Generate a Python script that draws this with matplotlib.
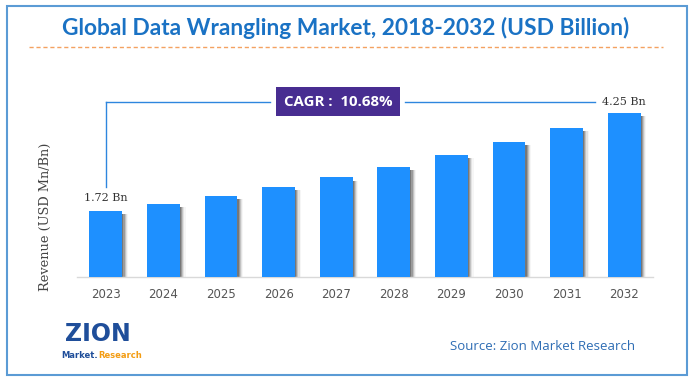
import matplotlib
matplotlib.use("Agg")
import matplotlib.pyplot as plt
from matplotlib.patches import Rectangle
from matplotlib.lines import Line2D

years = ["2023", "2024", "2025", "2026", "2027", "2028", "2029", "2030", "2031", "2032"]
values = [1.72, 1.90, 2.11, 2.33, 2.58, 2.86, 3.16, 3.50, 3.87, 4.25]
title = "Global Data Wrangling Market, 2018-2032 (USD Billion)"
cagr_text = "CAGR :  10.68%"
first_label = "1.72 Bn"
last_label = "4.25 Bn"
ylabel = "Revenue (USD Mn/Bn)"
source = "Source: Zion Market Research"

W, H = 693, 382
fig = plt.figure(figsize=(W / 100, H / 100), dpi=100)
fig.patch.set_facecolor("white")

def fx(px):
    return px / W

def fy(py):
    return 1 - py / H

# outer border
fig.add_artist(Rectangle((fx(6.5), fy(375)), fx(687) - fx(6.5), fy(5.5) - fy(375),
                         transform=fig.transFigure, fill=False,
                         edgecolor="#5B9BD5", lw=1.5))

# title
fig.text(fx(346), fy(28), title, ha="center", va="center", fontsize=16.4,
         fontweight="bold", color="#1A72C4", family="Lato")
fig.add_artist(Line2D([fx(29), fx(663)], [fy(47), fy(47)], transform=fig.transFigure,
                      color="#F4A261", lw=1, ls=(0, (3, 2))))

# axes
left, right, base = 77, 653, 277
top = 84
ax = fig.add_axes([fx(left), fy(base), fx(right) - fx(left), fy(top) - fy(base)])
ax.set_xlim(-0.5, 9.5)
ymax = (base - top) / 38.6
ax.set_ylim(0, ymax)
x = list(range(len(years)))
bw = 0.57

# shadows
shadow_steps = [(0.02, 0.5), (0.04, 0.35), (0.06, 0.22), (0.08, 0.12), (0.10, 0.05)]
for off, a in shadow_steps:
    ax.bar([i + off for i in x], [v - 0.08 for v in values], width=bw, color="#555555",
           alpha=a, zorder=1, linewidth=0)
ax.bar(x, values, width=bw, color="#1E90FF", zorder=3, linewidth=0)

for s in ["top", "right", "left"]:
    ax.spines[s].set_visible(False)
ax.spines["bottom"].set_color("#D9D9D9")
ax.spines["bottom"].set_linewidth(1)
ax.set_yticks([])
ax.set_xticks(x)
ax.set_xticklabels(years, fontsize=8.5, color="#555555", family="DejaVu Sans")
ax.tick_params(axis="x", length=0, pad=8)
ax.patch.set_alpha(0)

# annotations
line_y = (base - 101.7) / 38.6
lc = "#2E86DE"
ax.plot([0, 0], [values[0] + 0.6, line_y], color=lc, lw=1, clip_on=False, zorder=4)
ax.plot([0, 2.85], [line_y, line_y], color=lc, lw=1, clip_on=False, zorder=4)
ax.plot([5.2, 8.5], [line_y, line_y], color=lc, lw=1, clip_on=False, zorder=4)
ax.text(4.03, line_y, cagr_text, ha="center", va="center", fontsize=10.8,
        fontweight="bold", color="white", family="Open Sans", zorder=5,
        bbox=dict(boxstyle="square,pad=0.5", fc="#482D91", ec="none"))
ax.text(0, values[0] + 0.33, first_label, ha="center", va="center", fontsize=8,
        color="#333333", family="DejaVu Serif")
ax.text(9, line_y, last_label, ha="center", va="center", fontsize=8,
        color="#333333", family="DejaVu Serif")

fig.text(fx(45), fy(217), ylabel, rotation=90, ha="center", va="center",
         fontsize=9.3, color="#444444", family="DejaVu Serif")

# source
fig.text(fx(543), fy(346), source, ha="center", va="center", fontsize=9.5,
         color="#2E6DB4", family="Open Sans")

# logo (text approximation)
fig.text(fx(98), fy(334), "ZION", ha="center", va="center", fontsize=17,
         fontweight="bold", color="#1F4E9A", family="DejaVu Sans")
fig.text(fx(98), fy(355), "Market.", ha="right", va="center", fontsize=6,
         fontweight="bold", color="#1F4E9A", family="DejaVu Sans")
fig.text(fx(98.5), fy(355), "Research", ha="left", va="center", fontsize=6,
         fontweight="bold", color="#F39C12", family="DejaVu Sans")

fig.savefig("out.png", dpi=100)
